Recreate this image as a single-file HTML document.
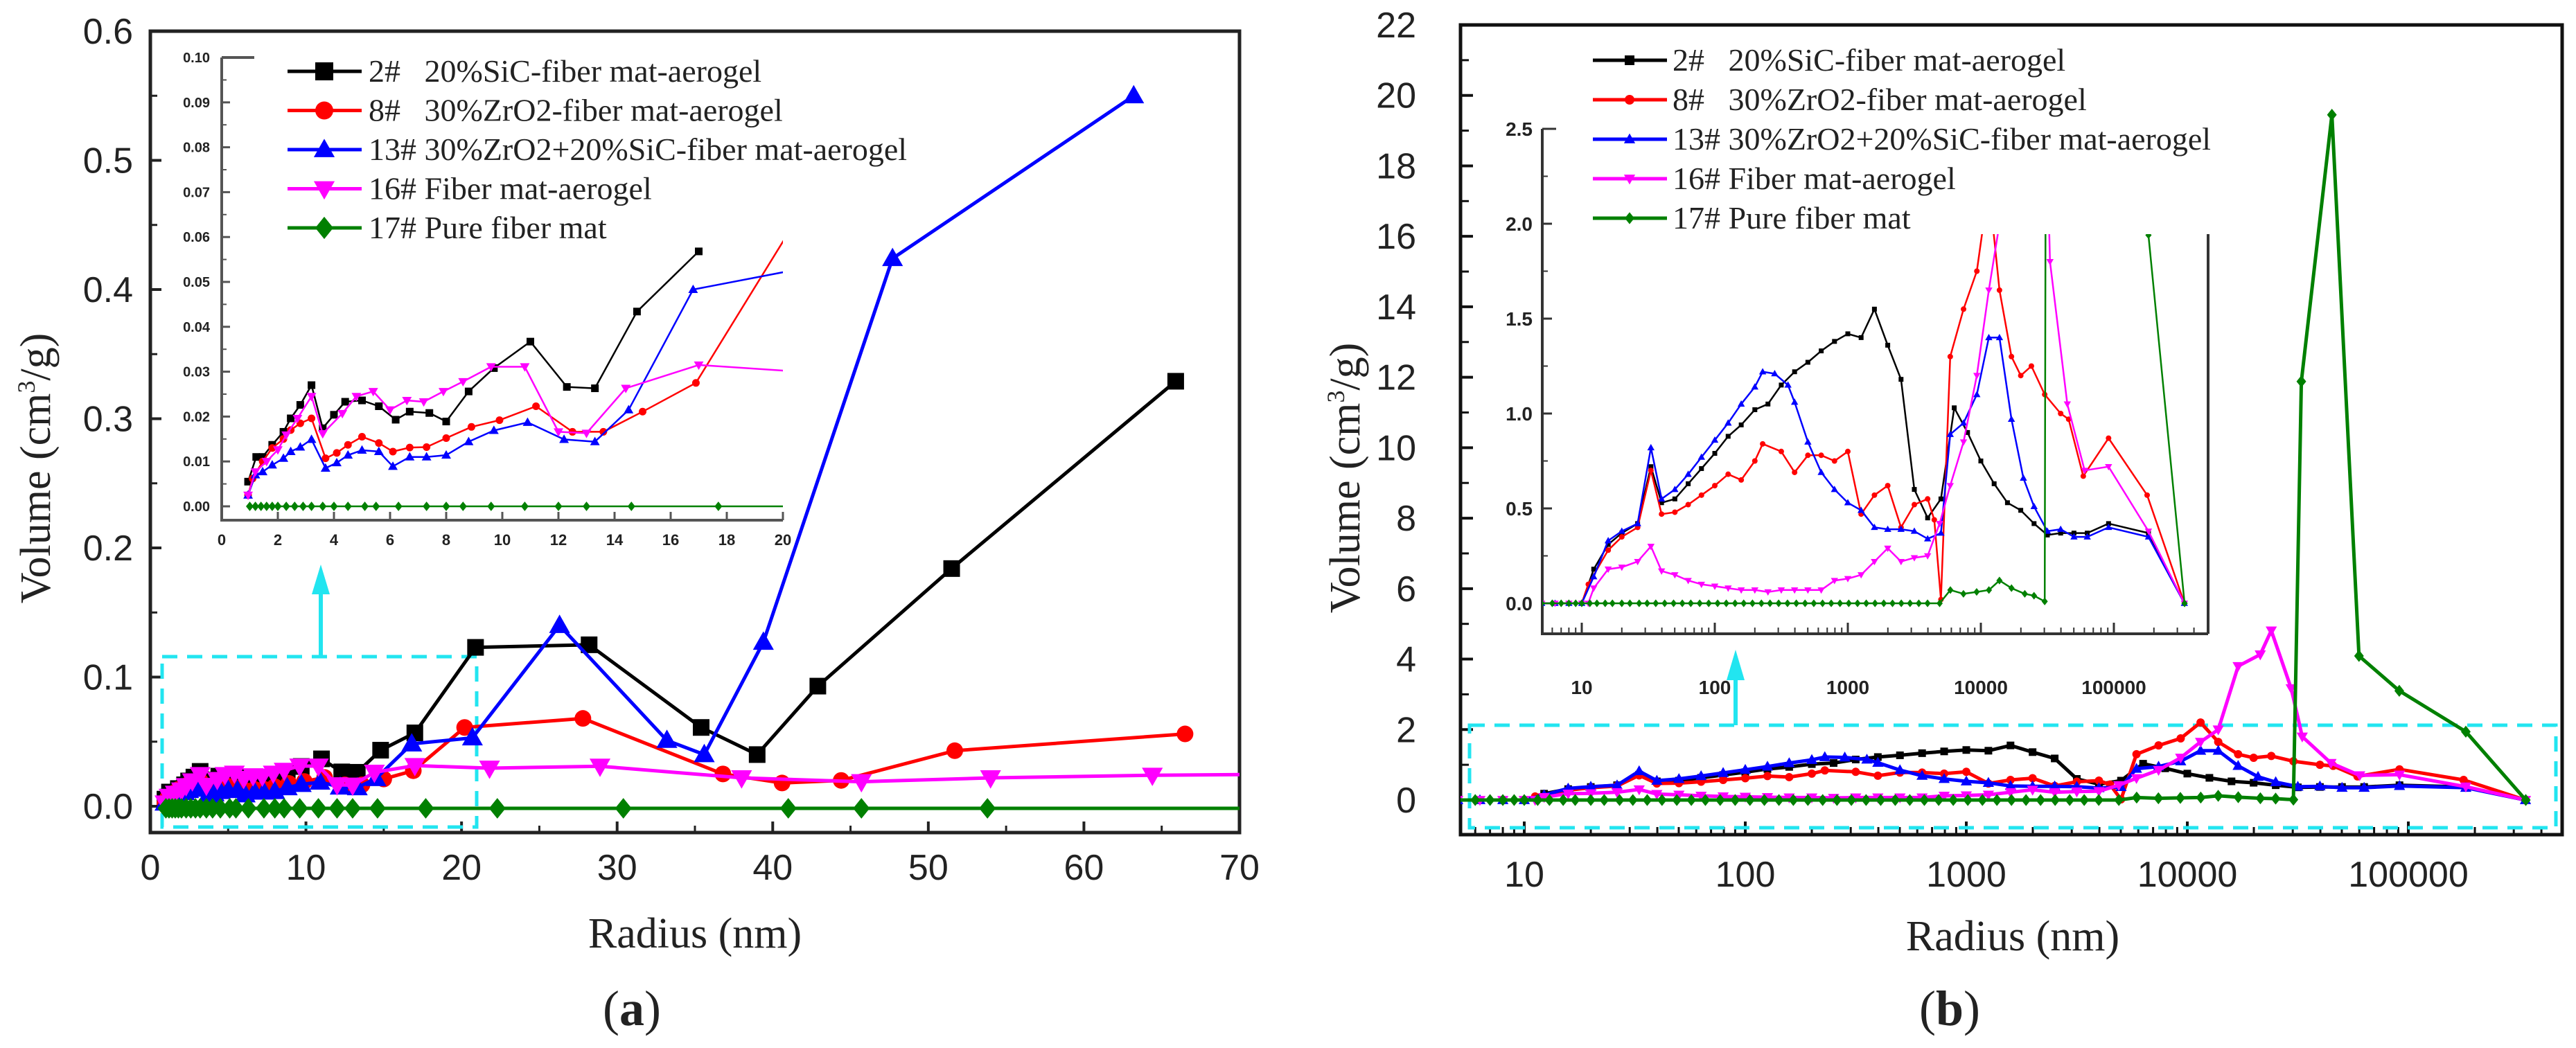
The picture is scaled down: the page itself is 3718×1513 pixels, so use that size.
<!DOCTYPE html>
<html><head><meta charset="utf-8">
<style>
html,body{margin:0;padding:0;background:#fff;}
svg{display:block;}
.tk{font-family:"Liberation Sans",Arial,sans-serif;fill:#222;}
.sr{font-family:"Liberation Serif","Times New Roman",serif;fill:#222;}
.ib{font-family:"Liberation Sans",Arial,sans-serif;font-weight:bold;fill:#222;}
</style></head>
<body>
<svg id="fig" width="3718" height="1513" viewBox="0 0 3718 1513" xmlns="http://www.w3.org/2000/svg">
<defs>
<clipPath id="clipA"><rect x="217" y="45" width="1572" height="1157"/></clipPath>
<clipPath id="clipAi"><rect x="310" y="40" width="820" height="715"/></clipPath>
<clipPath id="clipB"><rect x="2108" y="36" width="1590" height="1169"/></clipPath>
<clipPath id="clipBi"><rect x="2226" y="338" width="961" height="577"/></clipPath>
</defs>
<g id="root"></g>
</svg>
<script>
// ---------- Panel (a) data ----------
const aBlackX=[0.94,1.23,1.46,1.8,2.2,2.46,2.8,3.2,3.6,4.0,4.4,5.0,5.6,6.2,6.7,7.4,8.0,8.8,9.7,11.0,12.3,13.3,14.8,17.0,20.9,28.2,35.4,39.0,42.9,51.5,65.9];
const aBlackY=[.0055,.011,.011,.0137,.0166,.0196,.0226,.027,.0174,.0204,.0233,.0236,.0223,.0193,.0211,.0208,.0189,.0256,.0308,.0367,.0266,.0263,.0434,.0568,.123,.125,.061,.040,.093,.184,.329];
const aRedX=[0.94,1.1,1.46,1.8,2.2,2.46,2.8,3.2,3.7,4.1,4.5,5.0,5.6,6.1,6.7,7.3,8.0,8.9,9.9,11.2,12.5,13.6,15.0,16.9,20.2,27.8,36.8,40.6,44.4,51.7,66.5];
const aRedY=[.0025,.0062,.01,.013,.015,.017,.0185,.0196,.0107,.0119,.0137,.0155,.0141,.0122,.0131,.0132,.0152,.0177,.0192,.0223,.0166,.0166,.0211,.0275,.061,.068,.025,.018,.020,.043,.056];
const aBlueX=[0.94,1.2,1.46,1.8,2.2,2.46,2.8,3.2,3.7,4.1,4.5,5.0,5.6,6.1,6.7,7.3,8.0,8.8,9.7,10.9,12.2,13.3,14.5,16.8,20.7,26.3,33.2,35.6,39.4,47.7,63.2];
const aBlueY=[.0025,.007,.0077,.0092,.0107,.0122,.0132,.0149,.0085,.0097,.0114,.0125,.0122,.0089,.011,.011,.0114,.0144,.0169,.0187,.0149,.0144,.0215,.0483,.053,.140,.051,.040,.127,.424,.550];
const aMagX=[0.94,1.2,1.6,2.0,2.3,2.7,3.2,3.6,4.3,4.8,5.4,6.0,6.6,7.2,7.9,8.6,9.6,10.8,12.0,13.0,14.4,17.0,21.8,28.9,38.0,45.7,54.0,64.4,75];
const aMagY=[.0025,.0077,.01,.0126,.0159,.0196,.0245,.0162,.0207,.0245,.0256,.0215,.0236,.0233,.0256,.0278,.0311,.0311,.0166,.0163,.0263,.0315,.0295,.031,.022,.019,.022,.024,.025];
const aGreenX=[1.0,1.2,1.4,1.6,1.8,2.0,2.3,2.6,2.9,3.2,3.6,4.0,4.5,5.1,5.5,6.3,7.3,8.0,8.6,9.6,10.8,12.0,13.0,14.6,17.7,22.3,30.4,41.0,45.7,53.8,75];
const aGreenY=[0,0,0,0,0,0,0,0,0,0,0,0,0,0,0,0,0,0,0,0,0,0,0,0,0,0,0,0,0,0,0];
const aXTicks=[0,10,20,30,40,50,60,70];
const aYTicks=[0.0,0.1,0.2,0.3,0.4,0.5,0.6];
const aiXTicks=[0,2,4,6,8,10,12,14,16,18,20];
const aiYTicks=[0.00,0.01,0.02,0.03,0.04,0.05,0.06,0.07,0.08,0.09,0.10];
// ---------- Panel (b) data ----------
const bBlackX=[5,6.3,8,10,12.3,15.8,20,26.3,33.1,39.8,50.1,63.1,79.4,100,126,158,200,251,316,398,501,631,794,1000,1259,1585,1995,2512,3162,3981,5012,6310,7943,10000,12589,15849,19953,25119,31623,39811,50119,63096,91201,181970,338844];
const bBlackY=[0,0,0,0,.18,.31,.37,.42,.72,.53,.55,.63,.71,.79,.88,.94,1.02,1.05,1.15,1.22,1.27,1.33,1.38,1.42,1.40,1.55,1.36,1.18,.60,.45,.55,1.03,.90,.75,.63,.53,.49,.42,.36,.37,.37,.37,.42,.37,0];
const bRedX=[5,6.3,8,10,11.2,15.8,20,26.3,33.1,39.8,50.1,63.1,79.4,100,126,158,200,229,316,398,501,631,794,1000,1259,1585,1995,2512,3162,3981,4467,5012,5888,7413,9333,11482,13804,16982,19953,23988,30200,39811,45709,58884,91201,177828,338844];
const bRedY=[0,0,0,0,.1,.28,.35,.40,.70,.47,.48,.52,.57,.62,.68,.65,.75,.84,.80,.69,.78,.78,.75,.80,.47,.57,.62,.40,.52,.55,.44,.02,1.30,1.55,1.75,2.2,1.65,1.3,1.2,1.25,1.1,1.0,.97,.67,.87,.57,0];
const bBlueX=[5,6.3,8,10,12.3,15.8,20,26.3,33.1,39.8,50.1,63.1,79.4,100,126,158,200,229,282,355,398,501,631,794,1000,1259,1585,1995,2512,3162,3981,5012,5888,7413,9333,11482,13804,16982,20893,25119,31623,39811,50119,63096,91201,181970,338844];
const bBlueY=[0,0,0,0,.14,.33,.38,.42,.82,.55,.60,.68,.77,.86,.95,1.05,1.14,1.22,1.21,1.15,1.06,.85,.69,.60,.53,.49,.40,.39,.39,.38,.34,.37,.89,.95,1.1,1.40,1.40,.97,.66,.51,.38,.39,.35,.35,.40,.35,0];
const bMagX=[5,6.3,8,10,11.2,12.3,15.8,20,26.3,33.1,39.8,50.1,63.1,79.4,100,126,158,200,251,316,398,501,631,794,1000,1259,1585,1995,2512,3162,3981,4898,5888,7413,9333,11482,13804,16982,21380,23988,29512,33113,44668,60256,91201,181970,338844];
const bMagY=[0,0,0,0,0,.08,.18,.19,.22,.30,.17,.15,.12,.10,.09,.08,.07,.07,.06,.07,.07,.07,.07,.12,.13,.15,.22,.29,.22,.24,.25,.42,.62,.85,1.2,1.65,2.0,3.8,4.13,4.81,3.17,1.8,1.05,.70,.72,.38,0];
const bGreenX=[5,6,7,8,9,10,11.5,13,15,17,20,23,27,31,36,42,49,57,66,77,90,105,122,142,165,192,224,260,302,352,410,477,555,646,750,873,1016,1183,1376,1601,1863,2168,2523,2936,3416,3975,4900,5900,7400,9300,11500,13800,17000,21400,25100,30200,32800,45100,59800,91000,182000,340000];
const bGreenY=[0,0,0,0,0,0,0,0,0,0,0,0,0,0,0,0,0,0,0,0,0,0,0,0,0,0,0,0,0,0,0,0,0,0,0,0,0,0,0,0,0,0,0,0,0,0,0,.07,.05,.06,.07,.12,.08,.05,.04,.01,11.88,19.45,4.09,3.10,1.94,0];
const bYTicks=[0,2,4,6,8,10,12,14,16,18,20,22];
const bXTicks=[10,100,1000,10000,100000];
const biYTicks=[0.0,0.5,1.0,1.5,2.0,2.5];
const legendLabels=["2#   20%SiC-fiber mat-aerogel","8#   30%ZrO2-fiber mat-aerogel","13# 30%ZrO2+20%SiC-fiber mat-aerogel","16# Fiber mat-aerogel","17# Pure fiber mat"];

const NS="http://www.w3.org/2000/svg";
const root=document.getElementById('root');
function el(tag,attrs,parent){const e=document.createElementNS(NS,tag);for(const k in attrs)e.setAttribute(k,attrs[k]);(parent||root).appendChild(e);return e;}
function txt(s,attrs,parent){const e=el('text',attrs,parent);e.textContent=s;return e;}
const SERIF='"Liberation Serif","Times New Roman",serif';

const axA=v=>217+v*(1572/70), ayA=v=>1164-v*(1119/0.6);
const axAi=v=>320+v*(810/20), ayAi=v=>731-v*(648/0.1);
const axB=v=>2200+(Math.log10(v)-1)*319, ayB=v=>1155-v*(1119/22);
const axBi=v=>2283+(Math.log10(v)-1)*192, ayBi=v=>871-v*274;

function marker(g,type,x,y,s,color){
  let m;
  if(type==='sq') m=el('rect',{x:x-s/2,y:y-s/2,width:s,height:s,fill:color},g);
  else if(type==='ci') m=el('circle',{cx:x,cy:y,r:s/2,fill:color},g);
  else if(type==='tu') m=el('polygon',{points:`${x},${y-s*0.6} ${x+s*0.58},${y+s*0.42} ${x-s*0.58},${y+s*0.42}`,fill:color},g);
  else if(type==='td') m=el('polygon',{points:`${x},${y+s*0.6} ${x+s*0.58},${y-s*0.42} ${x-s*0.58},${y-s*0.42}`,fill:color},g);
  else m=el('polygon',{points:`${x},${y-s*0.62} ${x+s*0.5},${y} ${x},${y+s*0.62} ${x-s*0.5},${y}`,fill:color},g);
  
  
}
function series(name,xs,ys,fx,fy,color,type,ms,lw,clip,filt){
  const g=el('g',{'clip-path':`url(#${clip})`});
  
  
  const pts=[];const px=[];
  for(let i=0;i<xs.length;i++){ if(filt && !filt(xs[i])) continue; const X=fx(xs[i]),Y=fy(ys[i]); pts.push(X.toFixed(1)+','+Y.toFixed(1)); px.push([X,Y]);}
  el('polyline',{points:pts.join(' '),fill:'none',stroke:color,'stroke-width':lw,'stroke-linejoin':'round'},g);
  px.forEach(p=>marker(g,type,p[0],p[1],ms,color));
}
const COLORS=['#000','#f00','#00f','#f0f','#008000'];
const TYPES_A=['sq','ci','tu','td','di'];

// ======= Panel (a) main =======
el('rect',{x:217,y:45,width:1572,height:1157,fill:'none',stroke:'#222','stroke-width':5,});
aYTicks.forEach(v=>{const Y=ayA(v);el('line',{x1:217,y1:Y,x2:233,y2:Y,stroke:'#222','stroke-width':4});
  txt(v.toFixed(1),{x:192,y:Y+18,'text-anchor':'end','font-size':52,class:'tk',});
  const Ym=ayA(v+0.05); if(v<0.6) el('line',{x1:217,y1:Ym,x2:227,y2:Ym,stroke:'#222','stroke-width':3});});
aXTicks.forEach(v=>{const X=axA(v);el('line',{x1:X,y1:1202,x2:X,y2:1186,stroke:'#222','stroke-width':4});
  txt(String(v),{x:X,y:1270,'text-anchor':'middle','font-size':52,class:'tk',});
  if(v<70){const Xm=axA(v+5);el('line',{x1:Xm,y1:1202,x2:Xm,y2:1192,stroke:'#222','stroke-width':3});}});
txt('Radius (nm)',{x:1003,y:1368,'text-anchor':'middle','font-size':62,class:'sr',});
const yta=txt('',{transform:'translate(72,676) rotate(-90)','text-anchor':'middle','font-size':62,class:'sr',});
yta.innerHTML='Volume (cm<tspan dy="-22" font-size="36">3</tspan><tspan dy="22">/g)</tspan>';
txt('(',{x:870,y:1480,'font-size':72,class:'sr',}).innerHTML='(<tspan font-weight="bold">a</tspan>)';

el('rect',{x:234,y:948,width:454,height:246,fill:'none',stroke:'#22e5f0','stroke-width':5,'stroke-dasharray':'22 14',});
el('line',{x1:463,y1:948,x2:463,y2:850,stroke:'#22e5f0','stroke-width':6,});
el('polygon',{points:'463,815 450,858 476,858',fill:'#22e5f0'});

series('series-2-a',aBlackX,aBlackY,axA,ayA,COLORS[0],'sq',24,5,'clipA');
series('series-8-a',aRedX,aRedY,axA,ayA,COLORS[1],'ci',24,5,'clipA');
series('series-13-a',aBlueX,aBlueY,axA,ayA,COLORS[2],'tu',26,5,'clipA');
series('series-16-a',aMagX,aMagY,axA,ayA,COLORS[3],'td',26,5,'clipA');
series('series-17-a',aGreenX,aGreenY,axA,v=>ayA(v)+3,COLORS[4],'di',24,5,'clipA');

// inset (a)
el('line',{x1:320,y1:83,x2:320,y2:751,stroke:'#555','stroke-width':4});
el('line',{x1:318,y1:751,x2:1130,y2:751,stroke:'#555','stroke-width':4});
el('line',{x1:320,y1:83,x2:367,y2:83,stroke:'#555','stroke-width':4});
aiYTicks.forEach((v,i)=>{const Y=ayAi(v);el('line',{x1:320,y1:Y,x2:332,y2:Y,stroke:'#555','stroke-width':3});
  if(i<10){const Ym=ayAi(v+0.005);el('line',{x1:320,y1:Ym,x2:327,y2:Ym,stroke:'#555','stroke-width':2});}
  txt(v.toFixed(2),{x:303,y:Y+7,'text-anchor':'end','font-size':20,class:'ib',});});
aiXTicks.forEach(v=>{const X=axAi(v);el('line',{x1:X,y1:751,x2:X,y2:739,stroke:'#555','stroke-width':3});
  txt(String(v),{x:X,y:787,'text-anchor':'middle','font-size':22,class:'ib',});});
const fA=x=>x<=21.9, fBk=x=>x<=17.1, fG=x=>x<=23;
series('inset-series-2-a',aBlackX,aBlackY,axAi,ayAi,COLORS[0],'sq',11,2.5,'clipAi',fBk);
series('inset-series-8-a',aRedX,aRedY,axAi,ayAi,COLORS[1],'ci',11,2.5,'clipAi',fA);
series('inset-series-13-a',aBlueX,aBlueY,axAi,ayAi,COLORS[2],'tu',12,2.5,'clipAi',fA);
series('inset-series-16-a',aMagX,aMagY,axAi,ayAi,COLORS[3],'td',12,2.5,'clipAi',fA);
series('inset-series-17-a',aGreenX,aGreenY,axAi,ayAi,COLORS[4],'di',11,2.5,'clipAi',fG);

legendLabels.forEach((s,i)=>{const Y=103+i*56.5;const g=el('g',{});
  
  
  el('line',{x1:415,y1:Y,x2:522,y2:Y,stroke:COLORS[i],'stroke-width':5},g);
  marker(g,TYPES_A[i],468,Y,26,COLORS[i]);
  const t=txt(s,{x:532,y:Y+15,'font-size':46,'font-family':SERIF,fill:'#222'},g);t.style.whiteSpace='pre';t.style.fontFamily=SERIF;});

// ======= Panel (b) main =======
el('rect',{x:2108,y:36,width:1590,height:1169,fill:'none',stroke:'#111','stroke-width':5,});
bYTicks.forEach(v=>{const Y=ayB(v);el('line',{x1:2108,y1:Y,x2:2126,y2:Y,stroke:'#111','stroke-width':4});
  txt(String(v),{x:2044,y:Y+18,'text-anchor':'end','font-size':52,class:'tk',});
  if(v<22){const Ym=ayB(v+1);el('line',{x1:2108,y1:Ym,x2:2120,y2:Ym,stroke:'#111','stroke-width':3});}});
bXTicks.forEach(v=>{const X=axB(v);el('line',{x1:X,y1:1205,x2:X,y2:1186,stroke:'#111','stroke-width':4});
  txt(String(v),{x:X,y:1280,'text-anchor':'middle','font-size':52,class:'tk',});});
[1,10,100,1000,10000,100000].forEach(d=>{for(let k=2;k<10;k++){const v=d*k;if(v<5||v>500000)continue;const X=axB(v);if(X<2110||X>3696)continue;el('line',{x1:X,y1:1205,x2:X,y2:1194,stroke:'#111','stroke-width':3});}});
txt('Radius (nm)',{x:2905,y:1372,'text-anchor':'middle','font-size':62,class:'sr',});
const ytb=txt('',{transform:'translate(1962,690) rotate(-90)','text-anchor':'middle','font-size':62,class:'sr',});
ytb.innerHTML='Volume (cm<tspan dy="-22" font-size="36">3</tspan><tspan dy="22">/g)</tspan>';
txt('(',{x:2770,y:1480,'font-size':72,class:'sr',}).innerHTML='(<tspan font-weight="bold">b</tspan>)';

el('rect',{x:2121,y:1047,width:1568,height:148,fill:'none',stroke:'#22e5f0','stroke-width':5,'stroke-dasharray':'22 14',});
el('line',{x1:2505,y1:1047,x2:2505,y2:975,stroke:'#22e5f0','stroke-width':6,});
el('polygon',{points:'2505,938 2492,982 2518,982',fill:'#22e5f0'});

series('series-2-b',bBlackX,bBlackY,axB,ayB,COLORS[0],'sq',11,5,'clipB');
series('series-8-b',bRedX,bRedY,axB,ayB,COLORS[1],'ci',12,5,'clipB');
series('series-13-b',bBlueX,bBlueY,axB,ayB,COLORS[2],'tu',14,5,'clipB');
series('series-16-b',bMagX,bMagY,axB,ayB,COLORS[3],'td',14,5,'clipB');
series('series-17-b',bGreenX,bGreenY,axB,ayB,COLORS[4],'di',14,5,'clipB');

// inset (b)
el('line',{x1:2226,y1:186,x2:2226,y2:915,stroke:'#333','stroke-width':4});
el('line',{x1:2224,y1:915,x2:3187,y2:915,stroke:'#333','stroke-width':4});
el('line',{x1:3187,y1:338,x2:3187,y2:915,stroke:'#333','stroke-width':4});
el('line',{x1:2226,y1:186,x2:2246,y2:186,stroke:'#333','stroke-width':3});
biYTicks.forEach((v,i)=>{const Y=ayBi(v);el('line',{x1:2226,y1:Y,x2:2240,y2:Y,stroke:'#333','stroke-width':3});
  if(i<5){const Ym=ayBi(v+0.25);el('line',{x1:2226,y1:Ym,x2:2234,y2:Ym,stroke:'#333','stroke-width':2});}
  txt(v.toFixed(1),{x:2212,y:Y+10,'text-anchor':'end','font-size':28,class:'ib',});});
bXTicks.forEach(v=>{const X=axBi(v);el('line',{x1:X,y1:915,x2:X,y2:899,stroke:'#333','stroke-width':3});
  txt(String(v),{x:X,y:1002,'text-anchor':'middle','font-size':28,class:'ib',});});
[1,10,100,1000,10000,100000].forEach(d=>{for(let k=2;k<10;k++){const v=d*k;const X=axBi(v);if(X<2228||X>3185)continue;el('line',{x1:X,y1:915,x2:X,y2:906,stroke:'#333','stroke-width':2});}});
series('inset-series-2-b',bBlackX,bBlackY,axBi,ayBi,COLORS[0],'sq',7,2.5,'clipBi');
series('inset-series-8-b',bRedX,bRedY,axBi,ayBi,COLORS[1],'ci',8,2.5,'clipBi');
series('inset-series-13-b',bBlueX,bBlueY,axBi,ayBi,COLORS[2],'tu',9,2.5,'clipBi');
series('inset-series-16-b',bMagX,bMagY,axBi,ayBi,COLORS[3],'td',9,2.5,'clipBi');
series('inset-series-17-b',bGreenX,bGreenY,axBi,ayBi,COLORS[4],'di',9,2.5,'clipBi');

legendLabels.forEach((s,i)=>{const Y=87+i*57;const g=el('g',{});
  
  
  el('line',{x1:2299,y1:Y,x2:2406,y2:Y,stroke:COLORS[i],'stroke-width':5},g);
  marker(g,TYPES_A[i],2352,Y,14,COLORS[i]);
  const t=txt(s,{x:2414,y:Y+15,'font-size':46,'font-family':SERIF,fill:'#222'},g);t.style.whiteSpace='pre';t.style.fontFamily=SERIF;});
</script>
</body></html>
